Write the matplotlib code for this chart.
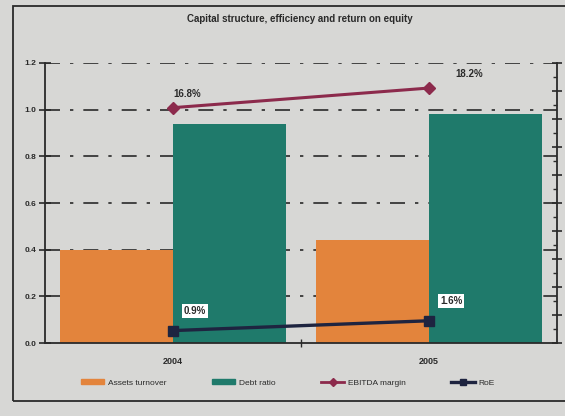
import matplotlib
matplotlib.use("Agg")
import matplotlib.pyplot as plt
from matplotlib.patches import Rectangle
from matplotlib.lines import Line2D
from matplotlib.ticker import MultipleLocator
import numpy as np

plt.rcParams['font.family'] = ['Liberation Sans', 'DejaVu Sans']

years = ["2004", "2005"]
assets_turnover = [0.40, 0.44]
debt_ratio = [0.94, 0.98]
ebitda_margin = [16.8, 18.2]   # percent, right axis
roe = [0.9, 1.6]               # percent, right axis

bg = "#d7d7d5"
orange = "#e3843c"
teal = "#1f7a6b"
maroon = "#8c2a4c"
navy = "#1e2440"
ink = "#2a2a2a"

fig = plt.figure(figsize=(5.65, 4.16), dpi=100, facecolor=bg)

# outer frame
fig.patches.append(Rectangle((0.023, 0.036), 1.2, 0.950, transform=fig.transFigure,
                             fill=False, edgecolor=ink, linewidth=1.3))

ax = fig.add_axes([0.0796, 0.175, 0.906, 0.674])
ax.set_facecolor(bg)
x = np.arange(len(years))
w = 0.44

ax.bar(x - w / 2, assets_turnover, width=w, color=orange, zorder=2)
ax.bar(x + w / 2, debt_ratio, width=w, color=teal, zorder=2)

ax.set_xlim(-0.5, 1.5)
ax.set_ylim(0, 1.2)
ax.set_yticks(np.arange(0, 1.21, 0.2))
ax.set_yticklabels([f"{v:.1f}" for v in np.arange(0, 1.21, 0.2)],
                   fontsize=6, fontweight='bold', color=ink)
ax.set_xticks(x)
ax.set_xticklabels(years, fontsize=6.5, fontweight='bold', color=ink)
ax.tick_params(axis='x', length=0, pad=10)
ax.tick_params(axis='y', direction='inout', length=8, width=1.2, color=ink, pad=2)
ax.set_xticks([0.5], minor=True)
ax.tick_params(axis='x', which='minor', direction='inout', length=6, width=1, color=ink)

for yv in np.arange(0.2, 1.21, 0.2):
    ax.axhline(yv, color=ink, linewidth=1.2, linestyle=(0, (9, 6, 2, 6)), zorder=1)

for s in ['top', 'right']:
    ax.spines[s].set_visible(False)
for s in ['left', 'bottom']:
    ax.spines[s].set_color(ink)
    ax.spines[s].set_linewidth(1.3)

ax2 = ax.twinx()
ax2.set_ylim(0, 20)
ax2.yaxis.set_major_locator(MultipleLocator(2))
ax2.yaxis.set_minor_locator(MultipleLocator(1))
ax2.tick_params(axis='y', which='major', direction='inout', length=7, width=1.2,
                color=ink, labelright=False)
ax2.tick_params(axis='y', which='minor', direction='in', length=3, width=1, color=ink)
for s in ['top', 'left', 'bottom']:
    ax2.spines[s].set_visible(False)
ax2.spines['right'].set_color(ink)
ax2.spines['right'].set_linewidth(1.3)

ax2.plot(x, ebitda_margin, color=maroon, linewidth=2.2, marker='D', markersize=6,
         markerfacecolor=maroon, markeredgecolor=maroon, zorder=4)
ax2.plot(x, roe, color=navy, linewidth=2.4, marker='s', markersize=7,
         markerfacecolor=navy, markeredgecolor=navy, zorder=4)

ebitda_offsets = [(10, 10), (29, 10)]
for xi, v, off in zip(x, ebitda_margin, ebitda_offsets):
    ax2.annotate(f"{v:.1f}%", (xi, v), xytext=off, textcoords='offset points',
                 ha='center', va='center', fontsize=7, fontweight='bold', color=ink)
for xi, v in zip(x, roe):
    ax2.annotate(f"{v:.1f}%", (xi, v), xytext=(16, 14), textcoords='offset points',
                 ha='center', va='center', fontsize=7, fontweight='bold', color=ink,
                 bbox=dict(boxstyle='square,pad=0.2', facecolor='white', edgecolor='none'))

fig.text(0.53, 0.954, "Capital structure, efficiency and return on equity",
         ha='center', va='center', fontsize=7, fontweight='bold', color=ink)

handles = [
    Rectangle((0, 0), 1, 1, color=orange),
    Rectangle((0, 0), 1, 1, color=teal),
    Line2D([], [], color=maroon, linewidth=2, marker='D', markersize=4),
    Line2D([], [], color=navy, linewidth=2.4, marker='s', markersize=5),
]
labels = ["Assets turnover", "Debt ratio", "EBITDA margin", "RoE"]
fig.legend(handles, labels, loc='center left', bbox_to_anchor=(0.13, 0.08), ncol=4,
           frameon=False, fontsize=6, handlelength=2.8, handleheight=0.6,
           columnspacing=5.5, handletextpad=0.4, labelcolor=ink)

fig.savefig("out.png", dpi=100, facecolor=bg)
